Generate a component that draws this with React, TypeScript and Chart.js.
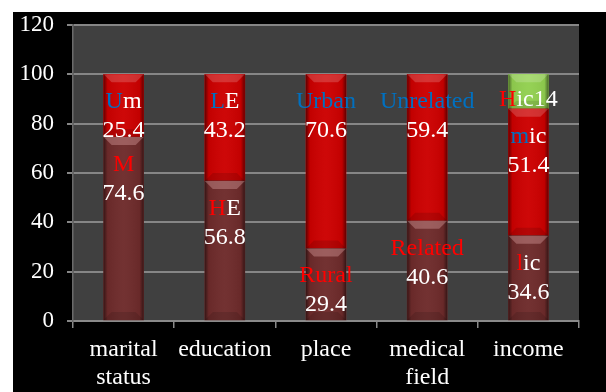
import React, { useEffect, useRef } from "react";
import { Chart, registerables } from "chart.js";

Chart.register(...registerables);

const categories: (string | string[])[] = [["marital", "status"], "education", "place", ["medical", "field"], "income"];
const lowerValues = [74.6, 56.8, 29.4, 40.6, 34.6];
const upperValues = [25.4, 43.2, 70.6, 59.4, 51.4];
const topValues = [null, null, null, null, 14];
const lowerNames = [["M", ""], ["H", "E"], ["Rural", ""], ["Related", ""], ["l", "ic"]];
const upperNames = [["U", "m"], ["L", "E"], ["Urban", ""], ["Unrelated", ""], ["m", "ic"]];
const topNames = [null, null, null, null, ["H", "ic"]];
const yMin = 0;
const yMax = 120;
const yStep = 20;

const FONT = '"Liberation Serif", "Times New Roman", serif';
const FS = 24;
const FS_Y = 23;
const RED_TXT = "#ff0000";
const BLUE_TXT = "#0070c0";

const datasetNames = [lowerNames, upperNames, topNames];
const firstColors = [RED_TXT, BLUE_TXT, RED_TXT];

const bevelPlugin = {
  id: "bevel",
  afterDatasetsDraw(chart: any) {
    const ctx = chart.ctx;
    chart.data.datasets.forEach((ds: any, di: number) => {
      const meta = chart.getDatasetMeta(di);
      meta.data.forEach((el: any, i: number) => {
        if (ds.data[i] == null) return;
        const { x, y, base, width } = el.getProps(["x", "y", "base", "width"], true);
        const l = x - width / 2, r = x + width / 2, t = Math.min(y, base), b = Math.max(y, base);
        ctx.save();
        const g = ctx.createLinearGradient(l, 0, r, 0);
        g.addColorStop(0, "rgba(0,0,0,0.5)");
        g.addColorStop(0.1, "rgba(0,0,0,0.05)");
        g.addColorStop(0.5, "rgba(255,255,255,0.03)");
        g.addColorStop(0.9, "rgba(0,0,0,0.05)");
        g.addColorStop(1, "rgba(0,0,0,0.5)");
        ctx.fillStyle = g;
        ctx.fillRect(l, t, width, b - t);
        const bv = Math.min(8, (b - t) / 3);
        ctx.beginPath();
        ctx.moveTo(l, t);
        ctx.lineTo(r, t);
        ctx.lineTo(r - bv, t + bv);
        ctx.lineTo(l + bv, t + bv);
        ctx.closePath();
        ctx.fillStyle = di === 0 ? "rgba(255,200,200,0.3)" : "rgba(255,255,255,0.18)";
        ctx.fill();
        ctx.beginPath();
        ctx.moveTo(l, b);
        ctx.lineTo(r, b);
        ctx.lineTo(r - bv, b - bv);
        ctx.lineTo(l + bv, b - bv);
        ctx.closePath();
        ctx.fillStyle = "rgba(0,0,0,0.12)";
        ctx.fill();
        ctx.restore();
      });
    });
  },
};

function drawParts(ctx: any, parts: [string, string][], cx: number, y: number) {
  const total = parts.reduce((s, p) => s + ctx.measureText(p[0]).width, 0);
  let x = cx - total / 2;
  for (const [txt, col] of parts) {
    ctx.fillStyle = col;
    ctx.fillText(txt, x, y);
    x += ctx.measureText(txt).width;
  }
}

const labelPlugin = {
  id: "segLabels",
  afterDatasetsDraw(chart: any) {
    const ctx = chart.ctx;
    ctx.save();
    ctx.font = `${FS}px ${FONT}`;
    ctx.textAlign = "left";
    ctx.textBaseline = "alphabetic";
    chart.data.datasets.forEach((ds: any, di: number) => {
      const meta = chart.getDatasetMeta(di);
      meta.data.forEach((el: any, i: number) => {
        const v = ds.data[i];
        if (v == null) return;
        const name = datasetNames[di][i];
        if (!name) return;
        const { x, y } = el.getProps(["x", "y"], true);
        if (di === 2) {
          drawParts(ctx, [[name[0], firstColors[di]], [name[1] + String(v), "#ffffff"]], x, y + 32);
        } else {
          drawParts(ctx, [[name[0], firstColors[di]], [name[1], "#ffffff"]], x, y + 34);
          drawParts(ctx, [[v.toFixed(1), "#ffffff"]], x, y + 63);
        }
      });
    });
    ctx.restore();
  },
};

const bgPlugin = {
  id: "plotBg",
  beforeDraw(chart: any) {
    const { ctx, chartArea } = chart;
    ctx.save();
    ctx.fillStyle = "#000000";
    ctx.fillRect(0, 0, chart.width, chart.height);
    ctx.fillStyle = "#404040";
    ctx.fillRect(chartArea.left, chartArea.top, chartArea.right - chartArea.left, chartArea.bottom - chartArea.top);
    ctx.restore();
  },
};

export default function App() {
  const ref = useRef<HTMLCanvasElement>(null);
  useEffect(() => {
    if (!ref.current) return;
    const chart = new Chart(ref.current, {
      type: "bar",
      data: {
        labels: categories,
        datasets: [
          { data: lowerValues, backgroundColor: "#6e2b2b", borderWidth: 0 },
          { data: upperValues, backgroundColor: "#cc0000", borderWidth: 0 },
          { data: topValues as any, backgroundColor: "#92d050", borderWidth: 0 },
        ],
      },
      options: {
        animation: false,
        responsive: true,
        maintainAspectRatio: false,
        layout: { padding: { top: 13, right: 27, bottom: 0, left: 0 } },
        datasets: { bar: { barThickness: 40 } } as any,
        plugins: { legend: { display: false }, tooltip: { enabled: false } },
        scales: {
          x: {
            stacked: true,
            afterFit: (s: any) => { s.height = 71; s.paddingLeft = 0; s.paddingRight = 0; },
            grid: { drawOnChartArea: false, drawTicks: true, tickLength: 7, color: "#8a8a8a", lineWidth: 1.5 },
            border: { display: true, color: "#8a8a8a", width: 2 },
            ticks: { color: "#ffffff", font: { family: FONT, size: FS, lineHeight: 1.15 }, padding: 8, maxRotation: 0 },
          },
          y: {
            stacked: true,
            min: yMin,
            max: yMax,
            afterFit: (s: any) => { s.width = 60; s.paddingTop = 0; s.paddingBottom = 0; },
            grid: { color: "#868686", lineWidth: 2, tickLength: 6 },
            border: { display: true, color: "#6a6a6a", width: 1.5 },
            ticks: { stepSize: yStep, color: "#ffffff", font: { family: FONT, size: FS_Y }, padding: 13 },
          },
        },
      },
      plugins: [bgPlugin, bevelPlugin, labelPlugin],
    });
    return () => chart.destroy();
  }, []);
  return (
    <div style={{ position: "absolute", left: 13, top: 12, width: 593, height: 380, background: "#000" }}>
      <canvas ref={ref} />
    </div>
  );
}
